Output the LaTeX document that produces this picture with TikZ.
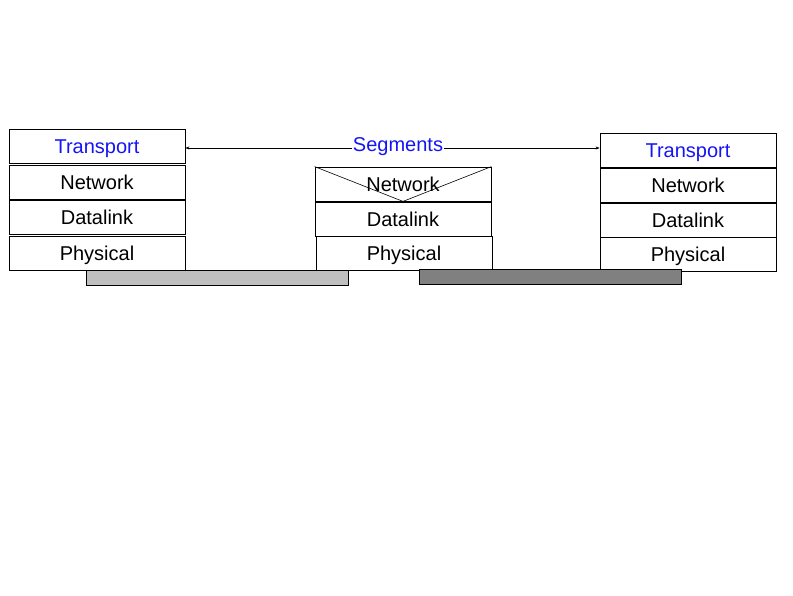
\documentclass[tikz,border=0pt]{standalone}
\usepackage{fontspec}
\setmainfont{Liberation Sans}
\usetikzlibrary{arrows.meta, positioning}
\definecolor{segblue}{RGB}{20, 20, 245}
\definecolor{linkgray}{RGB}{191, 191, 191}
\definecolor{wiregray}{RGB}{128, 128, 128}
\tikzset{
  layer/.style={draw, line width=0.8pt, minimum width=176pt, minimum height=34pt, inner sep=0pt, text height=17pt, text depth=1.5pt, font=\fontsize{20}{22}\selectfont},
  toplayer/.style={layer, text=segblue},
  wire/.style={draw, line width=0.8pt}
}

\begin{document}
\begin{tikzpicture}[x=1pt, y=1pt]
  \useasboundingbox (0,0) rectangle (793,595);

  % Left host
  \node[toplayer] (lt) at (97, 449) {Transport};
  \node[layer] (ln) at (97, 413) {Network};
  \node[layer] (ld) at (97, 378) {Datalink};
  \node[layer] (lp) at (97, 342) {Physical};

  % Router
  \node[layer] (mn) at (403, 411) {Network};
  \node[layer] (md) at (403, 376) {Datalink};
  \node[layer] (mp) at (404, 342) {Physical};
  \draw[line width=0.6pt] (mn.north west) -- (mn.south) -- (mn.north east);

  % Right host
  \node[toplayer] (rt) at (688, 445) {Transport};
  \node[layer] (rn) at (688, 410) {Network};
  \node[layer] (rd) at (688, 375) {Datalink};
  \node[layer] (rp) at (688, 341) {Physical};

  % Links
  \draw[wire, fill=linkgray] (86, 310) rectangle (348, 325);
  \draw[wire, fill=wiregray] (419, 311) rectangle (681, 326);

  % Segments
  \node[font=\fontsize{20}{22}\selectfont, text=segblue, inner sep=1pt] (seg) at (398, 448) {Segments};
  \draw[-{Stealth[length=4pt, width=3pt]}, line width=0.6pt] (seg.west |- 0,447) -- (lt.east |- 0,447);
  \draw[-{Stealth[length=4pt, width=3pt]}, line width=0.6pt] (seg.east |- 0,447) -- (rt.west |- 0,447);
\end{tikzpicture}
\end{document}
